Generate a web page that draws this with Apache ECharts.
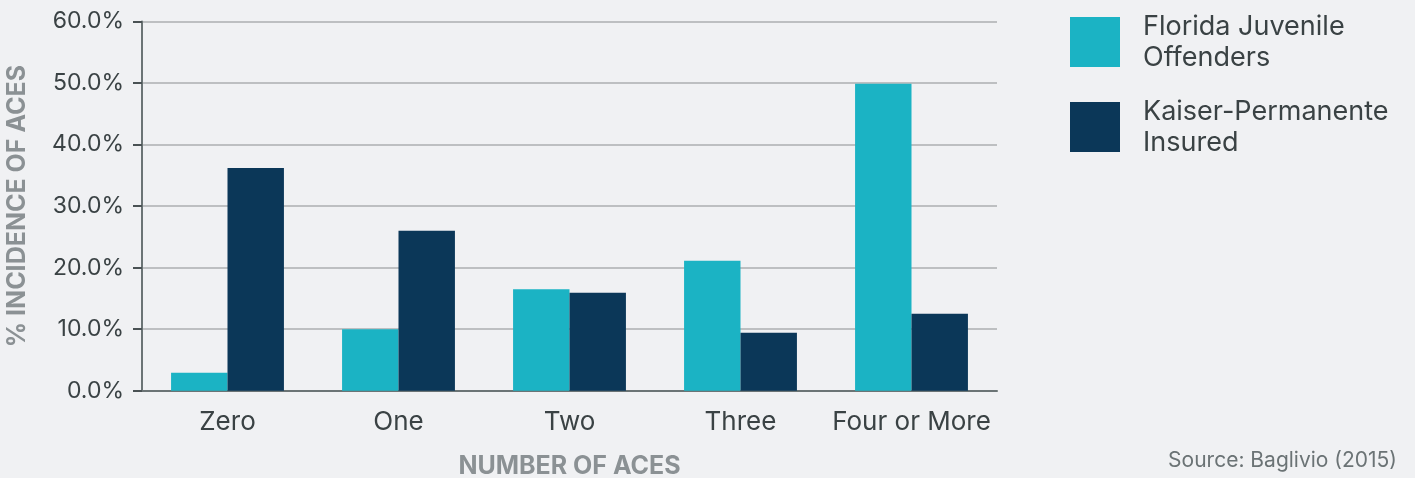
<!DOCTYPE html>
<html lang="en">
<head>
<meta charset="UTF-8">
<title>ACEs chart</title>
<style>
  html, body { margin: 0; padding: 0; background: #f0f1f3; }
  #main { width: 1415px; height: 478px; }
</style>
</head>
<body>
<div id="main"></div>
<script src="https://cdn.jsdelivr.net/npm/echarts@6/dist/echarts.min.js"></script>
<script>
const categories = ['Zero', 'One', 'Two', 'Three', 'Four or More'];
const floridaValues = [2.9, 10.0, 16.5, 21.1, 49.9];
const kaiserValues = [36.2, 26.0, 15.9, 9.4, 12.5];
const seriesNames = ['Florida Juvenile\nOffenders', 'Kaiser-Permanente\nInsured'];

const font = 'Inter';
const chart = echarts.init(document.getElementById('main'));

const option = {
  backgroundColor: '#f0f1f3',
  animation: false,
  textStyle: { fontFamily: font },
  title: {
    text: 'Source: Baglivio (2015)',
    right: 13,
    bottom: 2,
    textStyle: { fontFamily: font, fontSize: 21, fontWeight: 'normal', color: '#6b7375' }
  },
  legend: {
    orient: 'vertical',
    left: 1070,
    top: 9,
    padding: 0,
    itemWidth: 50,
    itemHeight: 50,
    itemGap: 19,
    icon: 'rect',
    textStyle: { fontFamily: font, fontSize: 27, color: '#3a4244', lineHeight: 31, padding: [4, 0, 0, 18] },
    data: seriesNames
  },
  grid: { left: 142, right: 418, top: 21.5, bottom: 87.3, outerBoundsMode: 'none' },
  xAxis: {
    type: 'category',
    data: categories,
    name: 'NUMBER OF ACES',
    nameLocation: 'middle',
    nameGap: 63,
    nameTextStyle: { fontFamily: font, fontSize: 25, fontWeight: 'bold', color: '#8b9194', verticalAlign: 'top' },
    axisLine: { lineStyle: { color: '#6b7475', width: 2 } },
    axisTick: { show: false },
    axisLabel: { interval: 0, fontFamily: font, fontSize: 26, color: '#3a4244', margin: 18 }
  },
  yAxis: {
    type: 'value',
    min: 0,
    max: 60,
    interval: 10,
    name: '% INCIDENCE OF ACES',
    nameLocation: 'middle',
    nameRotate: 90,
    nameGap: 112,
    nameTextStyle: { fontFamily: font, fontSize: 25, fontWeight: 'bold', color: '#8b9194' },
    axisLine: { show: true, lineStyle: { color: '#6b7475', width: 2 } },
    axisTick: { show: true, length: 9, lineStyle: { color: '#4a5254', width: 2 } },
    axisLabel: { fontFamily: font, fontSize: 23, color: '#3a4244', margin: 18, formatter: v => v.toFixed(1) + '%' },
    splitLine: { lineStyle: { color: '#acaeb0', width: 1.5 } }
  },
  series: [
    {
      name: seriesNames[0],
      type: 'bar',
      data: floridaValues,
      barGap: '0%',
      barCategoryGap: '34%',
      itemStyle: { color: '#1bb3c4' }
    },
    {
      name: seriesNames[1],
      type: 'bar',
      data: kaiserValues,
      itemStyle: { color: '#0b3758' }
    }
  ]
};
chart.setOption(option);
</script>
</body>
</html>
